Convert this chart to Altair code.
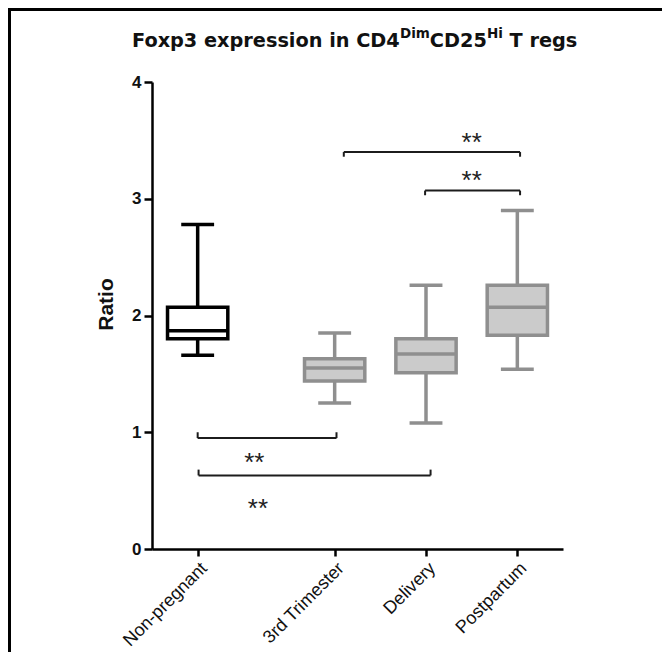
import altair as alt
import pandas as pd

# ---- data ----
categories = ["Non-pregnant", "3rd Trimester", "Delivery", "Postpartum"]
positions = [0.0, 1.5, 2.5, 3.5]
groups = ["control", "pregnant", "pregnant", "pregnant"]
whisker_min = [1.66, 1.25, 1.08, 1.54]
q1 = [1.80, 1.44, 1.51, 1.83]
median = [1.87, 1.55, 1.67, 2.07]
q3 = [2.07, 1.63, 1.80, 2.26]
whisker_max = [2.78, 1.85, 2.26, 2.90]

bracket_x1 = [1.60, 2.49, 0.00, 0.01]
bracket_x2 = [3.53, 3.53, 1.52, 2.55]
bracket_y = [3.40, 3.07, 0.95, 0.63]
bracket_tip = [3.36, 3.03, 1.00, 0.68]
star_x = [3.00, 3.00, 0.62, 0.66]
star_y = [3.54, 3.21, 0.80, 0.40]
star_text = ["**", "**", "**", "**"]

y_ticks = [0, 1, 2, 3, 4]

title_parts = ["Foxp3 expression in CD4", "Dim", "CD25", "Hi", "T regs"]
title_super = [False, True, False, True, False]
title_gap_before = [0, 0, 0, 0, 1]  # spaces before a part
y_title = "Ratio"

# ---- build tables ----
boxes = pd.DataFrame({
    "cat": categories, "pos": positions, "grp": groups,
    "lo": whisker_min, "q1": q1, "med": median, "q3": q3, "hi": whisker_max,
})
brackets = pd.DataFrame({"x1": bracket_x1, "x2": bracket_x2, "y": bracket_y, "tip": bracket_tip})
stars = pd.DataFrame({"x": star_x, "y": star_y, "t": star_text})

FONT = "Liberation Sans"
TFONT = "DejaVu Sans"
BOX_HALF = 0.33
CAP_HALF = 0.18
SW = 3.5

xscale = alt.Scale(domain=[-0.5, 4.0], nice=False, zero=False)
yscale = alt.Scale(domain=[0, 4], nice=False, zero=False)

label_expr = " : ".join(
    f"datum.value == {p} ? '{c}'" for p, c in zip(positions, categories)
) + " : ''"

xaxis = alt.Axis(values=positions, labelExpr=label_expr, labelAngle=-45,
                 labelFont=FONT, labelFontSize=18, labelColor="#111",
                 tickSize=7, tickWidth=2.5, tickColor="black",
                 domainWidth=2.5, domainColor="black", grid=False, title=None,
                 labelPadding=3)
yaxis = alt.Axis(values=y_ticks, format="d", labelFont=FONT, labelFontSize=17,
                 labelFontWeight="bold", labelColor="#111",
                 tickSize=8, tickWidth=2.5, tickColor="black",
                 domainWidth=2.5, domainColor="black", grid=False,
                 title=y_title, titleFont=FONT, titleFontSize=21, titleFontWeight="bold",
                 titleColor="#111", titleX=-36, titleY=222, labelPadding=3)

stroke_scale = alt.Scale(domain=["control", "pregnant"], range=["#000000", "#8f8f8f"])
fill_scale = alt.Scale(domain=["control", "pregnant"], range=["#ffffff", "#cbcbcb"])

base = alt.Chart(boxes)

whisk = base.mark_rule(strokeWidth=SW).encode(
    x=alt.X("pos:Q", scale=xscale, axis=xaxis),
    y=alt.Y("lo:Q", scale=yscale, axis=yaxis),
    y2="hi:Q",
    color=alt.Color("grp:N", scale=stroke_scale, legend=None),
)

caps_lo = base.transform_calculate(
    a=f"datum.pos - {CAP_HALF}", b=f"datum.pos + {CAP_HALF}"
).mark_rule(strokeWidth=SW).encode(
    x="a:Q", x2="b:Q", y="lo:Q",
    color=alt.Color("grp:N", scale=stroke_scale, legend=None),
)
caps_hi = base.transform_calculate(
    a=f"datum.pos - {CAP_HALF}", b=f"datum.pos + {CAP_HALF}"
).mark_rule(strokeWidth=SW).encode(
    x="a:Q", x2="b:Q", y="hi:Q",
    color=alt.Color("grp:N", scale=stroke_scale, legend=None),
)

box = base.transform_calculate(
    a=f"datum.pos - {BOX_HALF}", b=f"datum.pos + {BOX_HALF}"
).mark_rect(strokeWidth=SW).encode(
    x="a:Q", x2="b:Q", y="q1:Q", y2="q3:Q",
    fill=alt.Fill("grp:N", scale=fill_scale, legend=None),
    stroke=alt.Stroke("grp:N", scale=stroke_scale, legend=None),
)

med = base.transform_calculate(
    a=f"datum.pos - {BOX_HALF}", b=f"datum.pos + {BOX_HALF}"
).mark_rule(strokeWidth=SW).encode(
    x="a:Q", x2="b:Q", y="med:Q",
    color=alt.Color("grp:N", scale=stroke_scale, legend=None),
)

bc = "#1c1c1c"
br_h = alt.Chart(brackets).mark_rule(strokeWidth=2, color=bc).encode(
    x="x1:Q", x2="x2:Q", y="y:Q")
br_l = alt.Chart(brackets).mark_rule(strokeWidth=2, color=bc).encode(
    x="x1:Q", y="y:Q", y2="tip:Q")
br_r = alt.Chart(brackets).mark_rule(strokeWidth=2, color=bc).encode(
    x="x2:Q", y="y:Q", y2="tip:Q")

star = alt.Chart(stars).mark_text(font=FONT, fontSize=26, color="#222",
                                  align="center", baseline="alphabetic", dy=15).encode(
    x="x:Q", y="y:Q", text="t:N")

# ---- title with superscripts (layout in pixels, DejaVu Sans Bold advances) ----
W = {"F": 630, "o": 687, "x": 649, "p": 716, "3": 696, " ": 348, "e": 678, "r": 493,
     "s": 595, "i": 343, "n": 712, "C": 734, "D": 830, "4": 696, "m": 1042, "2": 696,
     "5": 696, "H": 837, "T": 682, "g": 716}
BIG, SMALL = 19.3, 13.5
tx = -20.0
ty = -35.0
title_layers = []
for txt, sup, gap in zip(title_parts, title_super, title_gap_before):
    fs = SMALL if sup else BIG
    tx += gap * W[" "] / 1000 * fs
    title_layers.append(
        alt.Chart(alt.Data(values=[{"k": 0}])).mark_text(
            font=TFONT, fontSize=fs, fontWeight="bold", color="#111",
            align="left", baseline="alphabetic").encode(
            x=alt.value(tx), y=alt.value(ty - 9 if sup else ty), text=alt.value(txt))
    )
    tx += sum(W.get(c, 680) for c in txt) / 1000 * fs

frame_top = alt.Chart(alt.Data(values=[{"k": 0}])).mark_rule(strokeWidth=3, color="black").encode(
    x=alt.value(-144), x2=alt.value(520), y=alt.value(-72.5))
frame_left = alt.Chart(alt.Data(values=[{"k": 0}])).mark_rule(strokeWidth=3, color="black").encode(
    x=alt.value(-142.5), y=alt.value(-74), y2=alt.value(570))

chart = alt.layer(
    whisk, caps_lo, caps_hi, box, med, br_h, br_l, br_r, star,
    *title_layers, frame_top, frame_left
).properties(
    width=411, height=467,
    padding={"left": 144, "top": 74, "right": 99, "bottom": 103},
    autosize=alt.AutoSizeParams(type="none"),
).configure(background="white").configure_view(stroke=None)

chart.save("out.html", embed_options={"renderer": "svg", "actions": False})
